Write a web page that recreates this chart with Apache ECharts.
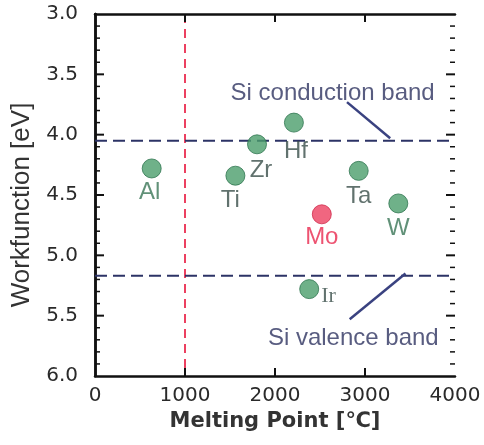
<!DOCTYPE html>
<html><head><meta charset="utf-8">
<script src="https://cdn.jsdelivr.net/npm/echarts@6/dist/echarts.min.js"></script>
<style>html,body{margin:0;padding:0;background:#fff}#c{width:484px;height:445px}</style>
</head><body><div id="c"></div>
<script>
const metals = ['Al','Ti','Zr','Hf','Ta','W','Mo','Ir'];
const meltingPoints = [630, 1560, 1800, 2210, 2930, 3370, 2520, 2380];
const workfunctions = [4.28, 4.34, 4.08, 3.90, 4.30, 4.57, 4.66, 5.28];
const xTicks = [0, 1000, 2000, 3000, 4000];
const yTicks = [3.0, 3.5, 4.0, 4.5, 5.0, 5.5, 6.0];
const yMinorTicks = [3.1, 3.2, 3.3, 3.4, 3.6, 3.7, 3.8, 3.9, 4.1, 4.2, 4.3, 4.4, 4.6, 4.7, 4.8, 4.9,
                     5.1, 5.2, 5.3, 5.4, 5.6, 5.7, 5.8, 5.9];
const siConduction = 4.05;
const siValence = 5.17;
const tempLimit = 1000;
const conductionPointer = [[2800, 3.73], [3280, 4.03]];
const valencePointer = [[2830, 5.53], [3450, 5.15]];
const conductionText = [2640, 3.66];
const valenceText = [2870, 5.69];

const labelPos = {
  Al: {position: 'bottom', distance: 2, offset: [-2, 0]},
  Ti: {position: 'bottom', distance: 3, offset: [-5, 0]},
  Zr: {position: 'bottom', distance: 4, offset: [4, 0]},
  Hf: {position: 'bottom', distance: 7, offset: [2, 0]},
  Ta: {position: 'bottom', distance: 4},
  W:  {position: 'bottom', distance: 3},
  Mo: {position: 'bottom', distance: 1},
  Ir: {position: 'right', distance: 2, offset: [0, 7], fontFamily: 'Liberation Serif, Times New Roman', fontSize: 22}
};
const green = '#4b9e6c', greenEdge = '#2f7550', red = '#ec4060', navy = '#2c3366';

const points = metals.map((m, i) => {
  const isMo = m === 'Mo';
  const lp = labelPos[m];
  return {
    value: [meltingPoints[i], workfunctions[i]], name: m,
    itemStyle: {color: isMo ? red : green, borderColor: isMo ? '#d02c4c' : greenEdge, borderWidth: 1},
    label: Object.assign({show: true, formatter: m, fontSize: 24, fontFamily: 'Liberation Sans, Arial',
      color: isMo ? '#e8284e' : (m === 'W' || m === 'Al' ? '#3a7556' : '#3a4f4a')}, lp)
  };
});

// tick marks pointing into the plot, placed through the axes' own scales
const tickData = []
  .concat(yTicks.filter(v => v > 3 && v < 6).map(v => ['y', v, 9]))
  .concat(yMinorTicks.map(v => ['y', v, 5]))
  .concat(xTicks.filter(v => v > 0 && v < 4000).map(v => ['x', v, 8]));
const tickStyle = {stroke: '#111', lineWidth: 2};
function renderTick(params, api) {
  const kind = tickData[params.dataIndex][0];
  const v = tickData[params.dataIndex][1];
  const len = tickData[params.dataIndex][2];
  const lw = len > 6 ? 2 : 1.5;
  if (kind === 'y') {
    const a = api.coord([0, v]), b = api.coord([4000, v]);
    return {type: 'group', children: [
      {type: 'line', shape: {x1: a[0], y1: a[1], x2: a[0] + len, y2: a[1]}, style: {stroke: '#111', lineWidth: lw}},
      {type: 'line', shape: {x1: b[0], y1: b[1], x2: b[0] - len, y2: b[1]}, style: {stroke: '#111', lineWidth: lw}}
    ]};
  }
  const a = api.coord([v, 3]), b = api.coord([v, 6]);
  return {type: 'group', children: [
    {type: 'line', shape: {x1: a[0], y1: a[1], x2: a[0], y2: a[1] + len}, style: tickStyle},
    {type: 'line', shape: {x1: b[0], y1: b[1], x2: b[0], y2: b[1] - len}, style: tickStyle}
  ]};
}

const chart = echarts.init(document.getElementById('c'), null, {renderer: 'canvas'});
const tickFont = {fontSize: 20, fontFamily: 'DejaVu Sans', color: '#2a2a2a'};
const axLine = {show: true, lineStyle: {color: '#111', width: 2.5}};
const xBase = {type: 'value', min: 0, max: 4000, interval: 1000, splitLine: {show: false}, axisTick: {show: false}};
const yBase = {type: 'value', inverse: true, min: 3, max: 6, interval: 0.5, splitLine: {show: false}, axisTick: {show: false}};
chart.setOption({
  animation: false,
  grid: {left: 95, right: 29, top: 14, bottom: 69},
  xAxis: [
    Object.assign({}, xBase, {
      position: 'bottom', axisLine: axLine,
      axisLabel: Object.assign({margin: 10, formatter: v => xTicks.includes(v) ? String(v) : ''}, tickFont),
      name: 'Melting Point [℃]', nameLocation: 'middle', nameGap: 33,
      nameTextStyle: {fontSize: 21, fontWeight: 'bold', fontFamily: 'DejaVu Sans', color: '#333'}
    }),
    Object.assign({}, xBase, {position: 'top', axisLine: axLine, axisLabel: {show: false}})
  ],
  yAxis: [
    Object.assign({}, yBase, {
      position: 'left', axisLine: axLine,
      axisLabel: Object.assign({margin: 17, formatter: v => yTicks.some(t => Math.abs(t - v) < 1e-9) ? v.toFixed(1) : ''}, tickFont),
      name: 'Workfunction [eV]', nameLocation: 'middle', nameGap: 58, nameRotate: 90,
      nameTextStyle: {fontSize: 26, fontFamily: 'Liberation Sans, Arial', color: '#333', padding: [0, 20, 0, 0]}
    }),
    Object.assign({}, yBase, {position: 'right', axisLine: axLine, axisLabel: {show: false}})
  ],
  series: [
    {type: 'custom', renderItem: renderTick, data: tickData.map((d, i) => i), clip: false, z: 6, silent: true},
    {type: 'line', data: [[tempLimit, 3], [tempLimit, 6]], symbol: 'none',
     lineStyle: {color: red, width: 2, type: [9, 6]}, z: 1},
    {type: 'line', data: [[0, siConduction], [4000, siConduction]], symbol: 'none',
     lineStyle: {color: navy, width: 2, type: [12, 6]}, z: 2},
    {type: 'line', data: [[0, siValence], [4000, siValence]], symbol: 'none',
     lineStyle: {color: navy, width: 2, type: [12, 6]}, z: 2},
    {type: 'line', data: conductionPointer, symbol: 'none', lineStyle: {color: '#3a4280', width: 2.5}, z: 2},
    {type: 'line', data: valencePointer, symbol: 'none', lineStyle: {color: '#3a4280', width: 2.5}, z: 2},
    {type: 'scatter', symbolSize: 0, z: 3,
     data: [{value: conductionText, label: {show: true, position: 'inside', formatter: 'Si conduction band'}},
            {value: valenceText, label: {show: true, position: 'inside', formatter: 'Si valence band'}}],
     label: {fontSize: 24, fontFamily: 'Liberation Sans, Arial', color: '#2e3360'}},
    {type: 'scatter', symbol: 'circle', symbolSize: 19, data: points, z: 5}
  ]
});
</script></body></html>
